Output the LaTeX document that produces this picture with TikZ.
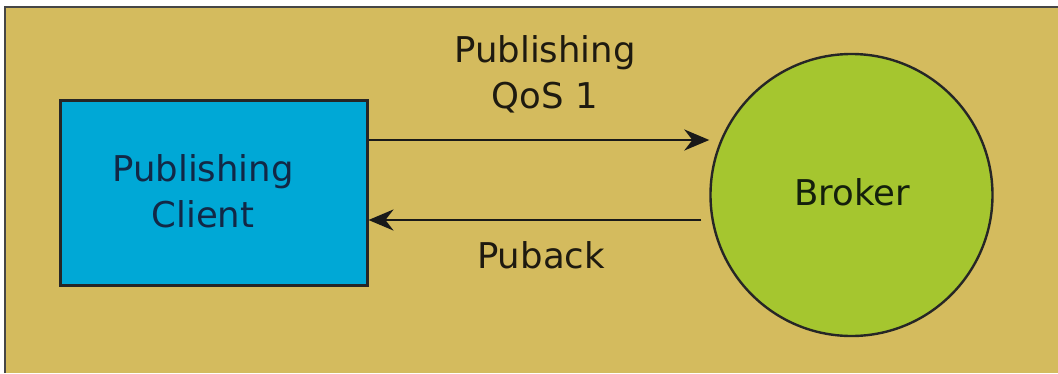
\documentclass[tikz,border=0pt]{standalone}
\usepackage{fontspec}
\setmainfont{DejaVu Sans}
\usetikzlibrary{arrows.meta}
\definecolor{bgtan}{RGB}{212,187,94}
\definecolor{clientblue}{RGB}{0,168,214}
\definecolor{brokergreen}{RGB}{165,198,47}
\definecolor{navytext}{RGB}{18,40,70}
\definecolor{greentext}{RGB}{20,32,12}
\definecolor{darktext}{RGB}{30,26,16}
\definecolor{edgegray}{RGB}{70,70,70}
\tikzset{
  lbl/.style={font=\fontsize{35.5}{46}\selectfont, align=center, inner sep=0pt},
  clientbox/.style={draw=black!85, line width=3pt, fill=clientblue, minimum width=307pt, minimum height=185pt, inner sep=0pt},
  brokerball/.style={circle, draw=black!85, line width=2.4pt, fill=brokergreen, minimum size=282pt, inner sep=0pt},
  msg/.style={line width=2.8pt, draw=black!90, -{Stealth[length=25pt, width=21pt]}}
}
\begin{document}
\begin{tikzpicture}[x=1pt, y=-1pt]
\useasboundingbox (0,0) rectangle (1058,373);
\fill[bgtan] (5,7) rectangle (1058,373);
\draw[edgegray, line width=1.2pt] (5,373) -- (5,7) -- (1058,7);
\node[clientbox] (client) at (213.5,192.5) {};
\node[lbl, text=navytext] (clientlbl) at (203,191) {Publishing\\Client};
\node[brokerball] (broker) at (851.5,195) {};
\node[lbl, text=greentext, anchor=base] (brokerlbl) at (852,205) {Broker};
\coordinate (toprow) at (0,140);
\coordinate (botrow) at (0,220);
\draw[msg] (client.east |- toprow) -- (broker.west |- toprow);
\draw[msg] ([xshift=-8pt]broker.west |- botrow) -- (client.east |- botrow);
\node[lbl, text=darktext] (publbl) at (545,74) {Publishing\\QoS 1};
\node[lbl, text=darktext, anchor=base] (acklbl) at (541,268) {Puback};
\end{tikzpicture}
\end{document}
